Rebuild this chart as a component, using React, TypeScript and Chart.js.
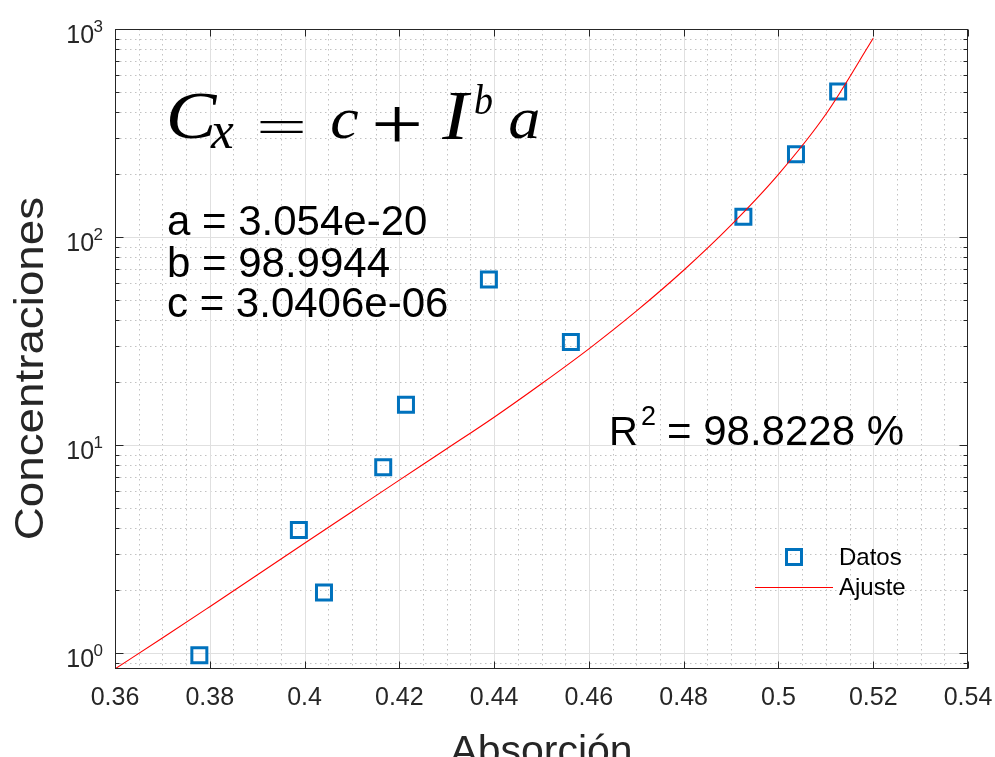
import { useEffect, useRef } from 'react';
import { Chart, registerables } from 'chart.js';

Chart.register(...registerables);

// ---- data ----
const absorcion = [0.3778, 0.3988, 0.4041, 0.4166, 0.4214, 0.4389, 0.4562, 0.4926, 0.5037, 0.5126];
const concentraciones = [0.9766, 3.906, 1.953, 7.8125, 15.625, 62.5, 31.25, 125, 250, 500];

const ajusteX = [0.36, 0.37, 0.38, 0.39, 0.40, 0.41, 0.42, 0.43, 0.44, 0.45, 0.46, 0.47, 0.48, 0.49, 0.50, 0.51, 0.52];
const ajusteY = [0.839, 1.18, 1.67, 2.37, 3.37, 4.78, 6.78, 9.59, 13.6, 19.7, 29.0, 44.0, 69.2, 114, 200, 389, 902];

const xTicks = [0.36, 0.38, 0.40, 0.42, 0.44, 0.46, 0.48, 0.50, 0.52, 0.54];
const xTickLabels = ['0.36', '0.38', '0.4', '0.42', '0.44', '0.46', '0.48', '0.5', '0.52', '0.54'];
const yDecades = [1, 10, 100, 1000];
const yExponents = ['0', '1', '2', '3'];

const X_MIN = 0.36;
const X_MAX = 0.54;
const Y_MIN = 0.838;
const Y_MAX = 1000;

const paramLines = ['a = 3.054e-20', 'b = 98.9944', 'c = 3.0406e-06'];
const r2Text = '= 98.8228 %';
const xTitle = 'Absorción';
const yTitle = 'Concentraciones';
const legendLabels = ['Datos', 'Ajuste'];

// ---- styles ----
const AXIS_COLOR = '#262626';
const MAJOR_GRID = '#e0e0e0';
const MINOR_GRID = '#c2c2c2';
const SANS = '"Liberation Sans", Arial, sans-serif';
const SERIF = '"Liberation Serif", "Times New Roman", serif';

const crisp = (v: number) => Math.round(v) + 0.5;

function hLine(ctx: any, x1: number, x2: number, y: number) {
  ctx.beginPath();
  ctx.moveTo(x1, y);
  ctx.lineTo(x2, y);
  ctx.stroke();
}
function vLine(ctx: any, x: number, y1: number, y2: number) {
  ctx.beginPath();
  ctx.moveTo(x, y1);
  ctx.lineTo(x, y2);
  ctx.stroke();
}

// draw text so that its ink fits a box (height exact, width within a stretch limit, centred)
function drawInkBox(ctx: any, text: string, font: string, left: number, top: number, right: number, bottom: number, maxStretch = 1.1, rotate = false) {
  ctx.save();
  ctx.font = font;
  ctx.textAlign = 'left';
  ctx.textBaseline = 'alphabetic';
  const m = ctx.measureText(text);
  const inkW = m.actualBoundingBoxLeft + m.actualBoundingBoxRight;
  const inkH = m.actualBoundingBoxAscent + m.actualBoundingBoxDescent;
  const W = rotate ? bottom - top : right - left;
  const H = rotate ? right - left : bottom - top;
  const sy = H / inkH;
  let sx = W / inkW;
  sx = Math.min(Math.max(sx, sy / maxStretch), sy * maxStretch);
  const drawnW = inkW * sx;
  if (!rotate) {
    ctx.translate((left + right) / 2 - drawnW / 2, top);
  } else {
    ctx.translate(left, (top + bottom) / 2 + drawnW / 2);
    ctx.rotate(-Math.PI / 2);
  }
  ctx.scale(sx, sy);
  ctx.fillText(text, m.actualBoundingBoxLeft, m.actualBoundingBoxAscent);
  ctx.restore();
}

const matlabAxes = {
  id: 'matlabAxes',
  beforeDatasetsDraw(chart: any) {
    const { ctx, chartArea: a, scales } = chart;
    const xs = scales.x;
    const ys = scales.y;
    ctx.save();
    ctx.lineWidth = 1;
    // minor grid (dotted)
    ctx.strokeStyle = MINOR_GRID;
    ctx.setLineDash([1.5, 3.5]);
    for (let i = 0; i < xTicks.length - 1; i++) {
      for (let k = 1; k < 4; k++) {
        const v = xTicks[i] + ((xTicks[i + 1] - xTicks[i]) * k) / 4;
        vLine(ctx, crisp(xs.getPixelForValue(v)), a.top, a.bottom);
      }
    }
    for (const d of [0.1, ...yDecades]) {
      for (let k = 2; k <= 9; k++) {
        const v = d * k;
        if (v <= Y_MIN || v >= Y_MAX) continue;
        hLine(ctx, a.left, a.right, crisp(ys.getPixelForValue(v)));
      }
    }
    // major grid (solid)
    ctx.setLineDash([]);
    ctx.strokeStyle = MAJOR_GRID;
    xTicks.forEach((v) => {
      if (v <= X_MIN || v >= X_MAX) return;
      vLine(ctx, crisp(xs.getPixelForValue(v)), a.top, a.bottom);
    });
    yDecades.forEach((v) => {
      if (v <= Y_MIN || v >= Y_MAX) return;
      hLine(ctx, a.left, a.right, crisp(ys.getPixelForValue(v)));
    });
    ctx.restore();
  },
  afterDatasetsDraw(chart: any) {
    const { ctx, chartArea: a, scales } = chart;
    const xs = scales.x;
    const ys = scales.y;
    ctx.save();
    // axes box
    ctx.strokeStyle = AXIS_COLOR;
    ctx.lineWidth = 1;
    ctx.setLineDash([]);
    const L = Math.round(a.left) + 0.5;
    const R = Math.round(a.right) - 0.5;
    const T = Math.round(a.top) + 0.5;
    const B = Math.round(a.bottom) - 0.5;
    ctx.strokeRect(L, T, R - L, B - T);

    // x ticks (inward, bottom and top)
    xTicks.forEach((v) => {
      const px = crisp(xs.getPixelForValue(v));
      vLine(ctx, px, B, B - 7);
      vLine(ctx, px, T, T + 7);
    });
    // y ticks major + minor (left and right)
    yDecades.forEach((v) => {
      const py = crisp(ys.getPixelForValue(v));
      hLine(ctx, L, L + 8, py);
      hLine(ctx, R, R - 8, py);
    });
    for (const d of [0.1, ...yDecades]) {
      for (let k = 2; k <= 9; k++) {
        const v = d * k;
        if (v <= Y_MIN || v >= Y_MAX) continue;
        const py = crisp(ys.getPixelForValue(v));
        hLine(ctx, L, L + 4, py);
        hLine(ctx, R, R - 4, py);
      }
    }

    // x tick labels
    ctx.fillStyle = AXIS_COLOR;
    ctx.font = `25px ${SANS}`;
    ctx.textAlign = 'center';
    ctx.textBaseline = 'alphabetic';
    xTicks.forEach((v, i) => {
      ctx.fillText(xTickLabels[i], xs.getPixelForValue(v), a.bottom + 36);
    });

    // y tick labels 10^n
    yDecades.forEach((v, i) => {
      const py = ys.getPixelForValue(v);
      const rightEdge = a.left - 12;
      ctx.font = `17px ${SANS}`;
      ctx.textAlign = 'right';
      const supW = ctx.measureText(yExponents[i]).width;
      ctx.fillText(yExponents[i], rightEdge, py + 2.5);
      ctx.font = `25px ${SANS}`;
      ctx.fillText('10', rightEdge - supW + 0.5, py + 14);
    });

    // axis titles
    ctx.font = `41px ${SANS}`;
    ctx.textAlign = 'center';
    ctx.fillText(xTitle, (a.left + a.right) / 2, a.bottom + 95);
    drawInkBox(ctx, yTitle, `42px ${SANS}`, 13, 198, 43, 538, 1.2, true);

    // formula  C_x = c + I^b a
    ctx.fillStyle = '#000000';
    const it = `italic 70px ${SERIF}`;
    const up = `70px ${SERIF}`;
    drawInkBox(ctx, 'C', it, 165, 92, 222, 138.5, 1.12);
    drawInkBox(ctx, 'x', `italic 50px ${SERIF}`, 210, 123.5, 233.5, 147.5, 1.1);
    drawInkBox(ctx, '=', up, 260, 120, 304, 132, 3);
    drawInkBox(ctx, 'c', it, 332, 110, 358.5, 138.5, 1.1);
    drawInkBox(ctx, '+', up, 375, 106.5, 420, 141.5, 1.3);
    drawInkBox(ctx, 'I', it, 440, 92, 473.5, 138.5, 1.1);
    drawInkBox(ctx, 'b', `italic 46px ${SERIF}`, 475, 83.5, 492, 113.5, 1.1);
    drawInkBox(ctx, 'a', it, 510, 110, 538.5, 138.5, 1.1);

    // fitted parameters
    ctx.font = `42px ${SANS}`;
    ctx.textAlign = 'left';
    const paramBase = [235, 277, 317];
    paramLines.forEach((t, i) => ctx.fillText(t, 167, paramBase[i]));

    // R^2
    ctx.font = `40px ${SANS}`;
    ctx.fillText('R', 609, 445);
    ctx.font = `27px ${SANS}`;
    ctx.fillText('2', 641, 425);
    ctx.font = `42px ${SANS}`;
    ctx.fillText(r2Text, 667, 445);

    // legend (no box)
    const ds0 = chart.data.datasets[0];
    const ds1 = chart.data.datasets[1];
    ctx.strokeStyle = ds0.borderColor;
    ctx.lineWidth = ds0.borderWidth;
    const side = ds0.pointRadius * Math.SQRT2;
    ctx.strokeRect(794 - side / 2, 557 - side / 2, side, side);
    ctx.strokeStyle = ds1.borderColor;
    ctx.lineWidth = ds1.borderWidth;
    hLine(ctx, 755, 833, 587.5);
    ctx.fillStyle = '#000000';
    ctx.font = `24px ${SANS}`;
    ctx.fillText(legendLabels[0], 839, 565);
    ctx.fillText(legendLabels[1], 839, 595);

    ctx.restore();
  },
};

export default function App() {
  const canvasRef = useRef<HTMLCanvasElement | null>(null);

  useEffect(() => {
    const canvas = canvasRef.current;
    if (!canvas) return;
    const chart = new Chart(canvas, {
      type: 'scatter',
      data: {
        datasets: [
          {
            label: legendLabels[0],
            data: absorcion.map((x, i) => ({ x, y: concentraciones[i] })),
            showLine: false,
            pointStyle: 'rect',
            pointRadius: 10.6,
            pointHoverRadius: 10.6,
            borderColor: '#0072BD',
            backgroundColor: 'rgba(0,0,0,0)',
            borderWidth: 3,
            order: 2,
          },
          {
            label: legendLabels[1],
            data: ajusteX.map((x, i) => ({ x, y: ajusteY[i] })),
            showLine: true,
            pointRadius: 0,
            borderColor: '#ff0000',
            backgroundColor: '#ff0000',
            borderWidth: 1.1,
            cubicInterpolationMode: 'monotone',
            order: 1,
          },
        ],
      },
      options: {
        animation: false,
        responsive: false,
        maintainAspectRatio: false,
        layout: { padding: { left: 115, right: 27, top: 29, bottom: 88 } },
        plugins: { legend: { display: false }, tooltip: { enabled: false } },
        events: [],
        scales: {
          x: { type: 'linear', display: false, min: X_MIN, max: X_MAX },
          y: { type: 'logarithmic', display: false, min: Y_MIN, max: Y_MAX },
        },
      },
      plugins: [matlabAxes],
    } as any);
    return () => chart.destroy();
  }, []);

  return (
    <div style={{ position: 'absolute', left: 0, top: 0, width: 995, height: 757, background: '#ffffff' }}>
      <canvas ref={canvasRef} width={995} height={757} style={{ display: 'block', width: 995, height: 757 }} />
    </div>
  );
}
